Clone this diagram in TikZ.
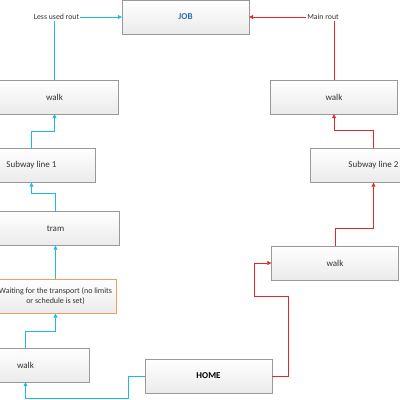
\documentclass[tikz,border=0pt]{standalone}
\usepackage{fontspec}
\setmainfont{Carlito}
\usetikzlibrary{arrows.meta}
\definecolor{routblue}{RGB}{30,185,230}
\definecolor{routred}{RGB}{228,40,40}
\definecolor{jobblue}{RGB}{46,112,178}
\definecolor{waitorange}{RGB}{238,160,100}
\tikzset{
    stepbox/.style={rectangle, draw=gray!80, top color=white, bottom color=gray!16,
        minimum width=127pt, minimum height=34pt, inner sep=1pt,
        font=\fontsize{9}{10}\selectfont, text=black!80},
    waitbox/.style={stepbox, draw=waitorange, minimum width=121pt,
        align=center, font=\fontsize{8}{10}\selectfont},
    lessrout/.style={draw=routblue, line width=0.55pt, -{Triangle[length=4pt,width=4pt]}},
    mainrout/.style={draw=routred, line width=0.55pt, -{Triangle[length=4pt,width=4pt]}},
    routlabel/.style={fill=white, inner sep=1pt, font=\fontsize{7.8}{8}\selectfont, text=black!80}
}

\begin{document}
\begin{tikzpicture}[x=1pt,y=-1pt]
    \useasboundingbox[fill=white] (0,0) rectangle (400,400);
    % boxes
    \node[stepbox, font=\fontsize{9}{10}\selectfont\bfseries, text=jobblue] (job) at (185.5,17) {JOB};
    \node[stepbox] (walkL1) at (54.5,97) {walk};
    \node[stepbox] (subwayL) at (31.5,165.5) {Subway line 1};
    \node[stepbox] (tram) at (55.5,228.5) {tram};
    \node[waitbox] (waiting) at (55.5,296.5) {Waiting for the transport (no limits\\or schedule is set)};
    \node[stepbox] (walkL2) at (25.5,365) {walk};
    \node[stepbox, font=\fontsize{9}{10}\selectfont\bfseries, text=black] (home) at (208.5,376) {HOME};
    \node[stepbox] (walkR2) at (335,263) {walk};
    \node[stepbox] (subwayR) at (373.5,165.5) {Subway line 2};
    \node[stepbox] (walkR1) at (334,97) {walk};
    % less used rout
    \draw[lessrout] (home.west) -- ++(-17,0) -- ++(0,22) -| (walkL2.south);
    \draw[lessrout] (walkL2.north) -- ++(0,-17) -| (waiting.south);
    \draw[lessrout] (waiting.north) -- (tram.south);
    \draw[lessrout] (tram.north) -- ++(0,-18) -| (subwayL.south);
    \draw[lessrout] (subwayL.north) -- ++(0,-17) -| (walkL1.south);
    \draw[lessrout] (walkL1.north) |- node[routlabel, xshift=2pt] {Less used rout} (job.west);
    % main rout
    \draw[mainrout] (home.east) -- ++(16,0) -- ++(0,-80) -- ++(-34,0) |- (walkR2.west);
    \draw[mainrout] (walkR2.north) -- ++(0,-18) -| (subwayR.south);
    \draw[mainrout] (subwayR.north) -- ++(0,-18) -| (walkR1.south);
    \draw[mainrout] (walkR1.north) |- node[routlabel, xshift=-11pt] {Main rout} (job.east);
\end{tikzpicture}
\end{document}
